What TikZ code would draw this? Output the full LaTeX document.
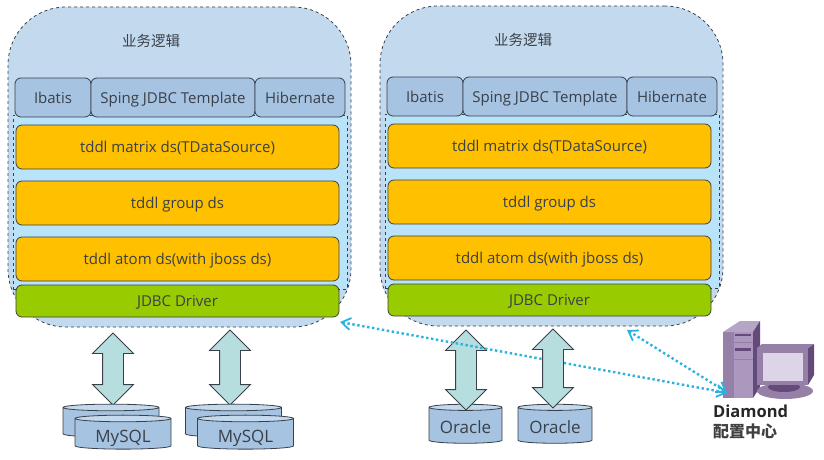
\documentclass[tikz,border=0pt]{standalone}
\usepackage{fontspec}
\setmainfont{Open Sans}
\newfontfamily\cjk{Noto Sans CJK SC}
\usetikzlibrary{arrows.meta, shapes.arrows, shapes.geometric}
\usetikzlibrary{positioning}
\usepackage{xcolor}
\definecolor{shellblue}{HTML}{C3D9EE}
\definecolor{innerblue}{HTML}{B9E3F8}
\definecolor{ormblue}{HTML}{A6C3E2}
\definecolor{tddlorange}{HTML}{FFC000}
\definecolor{driverlime}{HTML}{99CC00}
\definecolor{linkcyan}{HTML}{2BB3DE}
\definecolor{arrowteal}{HTML}{B7DEDF}
\definecolor{inkdark}{HTML}{3A4048}
\definecolor{pcmid}{RGB}{150,128,168}
\definecolor{pclight}{RGB}{182,165,196}
\definecolor{pcdark}{RGB}{100,74,122}
\definecolor{pcface}{RGB}{172,152,190}
\definecolor{pcscreen}{RGB}{222,212,232}
\tikzset{
	label15/.style={font=\fontsize{15}{18}\selectfont, text=inkdark, text height=12pt, text depth=1pt},
	shellbox/.style={draw=inkdark, dashed, fill=shellblue, rounded corners=58pt, line width=0.8pt, minimum width=343pt, minimum height=320pt, anchor=north west, outer sep=0pt},
	innerbox/.style={draw=inkdark, dashed, fill=innerblue, line width=0.7pt, minimum width=334pt, minimum height=174pt, anchor=north west, outer sep=0pt},
	ormbox/.style={label15, draw=inkdark, fill=ormblue, rounded corners=6pt, line width=0.8pt, minimum height=39pt, inner sep=0pt, outer sep=0pt},
	tddlbox/.style={label15, draw=inkdark, fill=tddlorange, rounded corners=6pt, line width=0.8pt, minimum width=323pt, minimum height=44pt, inner sep=0pt, outer sep=0pt},
	driverbox/.style={tddlbox, fill=driverlime, minimum height=32pt},
	bigarrow/.style={draw=inkdark, fill=arrowteal, shape=double arrow, line width=0.8pt, double arrow head extend=10pt, double arrow tip angle=90, inner xsep=0pt, inner ysep=10pt, rotate=90, anchor=center},
	dbcyl/.style={font=\fontsize{17}{20}\selectfont, text=inkdark, text height=16pt, text depth=0pt, shape=cylinder, shape border rotate=90, draw=inkdark, line width=0.8pt, cylinder uses custom fill, cylinder body fill=ormblue, cylinder end fill=shellblue, aspect=0.12, inner sep=0pt, outer sep=0pt},
	linkarrow/.style={draw=linkcyan, line width=2.4pt, dash pattern=on 2.4pt off 2.6pt, {Straight Barb[length=9pt,width=12pt,line width=1.8pt]}-{Straight Barb[length=9pt,width=12pt,line width=1.8pt]}}
}
\begin{document}
\begin{tikzpicture}[x=1pt, y=-1pt]
	\useasboundingbox (0,0) rectangle (824,460);
	
	\foreach \n/\dx/\dy in {left/0/0, right/372/-1}{
		\begin{scope}[shift={(\dx,\dy)}, name prefix=\n-]
			\node[shellbox] (shell) at (8,7) {};
			\node[innerbox] (inner) at (13,115) {};
			\node[font=\cjk\fontsize{14.5}{17}\selectfont, text=inkdark] (title) at (151,41) {业务逻辑};
			
			\node[ormbox, minimum width=76pt, anchor=north west] (ibatis) at (15,78) {Ibatis};
			\node[ormbox, minimum width=164pt, right=0pt of ibatis] (jdbctpl) {Sping JDBC Template};
			\node[ormbox, minimum width=90pt, right=0pt of jdbctpl] (hibernate) {Hibernate};
			
			\node[tddlbox, anchor=north west] (matrix) at (16,125) {tddl matrix ds(TDataSource)};
			\node[tddlbox, below=12pt of matrix] (group) {tddl group ds};
			\node[tddlbox, below=12pt of group] (atom) {tddl atom ds(with jboss ds)};
			\node[driverbox, below=4pt of atom] (driver) {JDBC Driver};
		\end{scope}
	}
	
	% databases
	\node[bigarrow, minimum height=72pt] (arrowa) at (113,369) {};
	\node[bigarrow, minimum height=75pt] (arrowb) at (230,367.5) {};
	\foreach \n/\x in {a/111, b/233.5}{
		\node[dbcyl, minimum width=96pt, minimum height=33pt] (back\n) at (\x,422.5) {\phantom{MySQL}};
		\node[dbcyl, minimum width=96pt, minimum height=34pt, right=-84pt of back\n, yshift=-11.5pt] (db\n) {MySQL};
	}
	\node[dbcyl, minimum width=73pt, minimum height=39pt] (dbc) at (465.5,425.5) {Oracle};
	\node[dbcyl, minimum width=74pt, minimum height=39pt] (dbd) at (555,425.5) {Oracle};
	\node[bigarrow, minimum height=80pt] (arrowc) at (466,370) {};
	
	% config server
	\fill[pcmid] (723,332) rectangle (753,398);
	\fill[pclight] (723,332) -- (740,321) -- (760,321) -- (753,332) -- cycle;
	\fill[pcdark] (753,332) -- (760,321) -- (760,387) -- (753,398) -- cycle;
	\fill[pcface] (734,332) rectangle (753,398);
	\fill[pcdark] (735,334) rectangle (751,336);
	\fill[pcdark] (735,348) rectangle (751,351);
	\fill[pcmid] (734,342) rectangle (753,343);
	\fill[pcmid] (734,359) rectangle (753,360);
	\fill[pcmid] (785,391) ellipse (28 and 8);
	\fill[pcdark] (784,387) ellipse (16 and 5);
	\fill[pcdark] (808,348) -- (814,344) -- (814,375) -- (808,385) -- cycle;
	\fill[pcmid] (757,348) -- (762,344) -- (814,344) -- (808,348) -- cycle;
	\fill[pcmid] (757,348) rectangle (808,385);
	\fill[pcscreen] (763,353) rectangle (803,381);
	\node[inner sep=0pt] (server) at (728,393) {};
	\coordinate (lefttip) at (340,322);
	\coordinate (righttip) at (627,330);
	
	\draw[linkarrow] (lefttip) -- (server);
	\draw[linkarrow] (righttip) -- (server);
	\node[bigarrow, minimum height=79pt] (arrowd) at (553,368.5) {};
	
	\node[font=\fontsize{16.5}{19}\selectfont\bfseries, text=black!85, anchor=west, inner sep=0pt] (diamond) at (713,411) {Diamond};
	\node[font=\cjk\fontsize{16}{19}\selectfont\bfseries, text=black!75, anchor=west, inner sep=0pt] (peizhi) at (713,431) {配置中心};
\end{tikzpicture}
\end{document}
